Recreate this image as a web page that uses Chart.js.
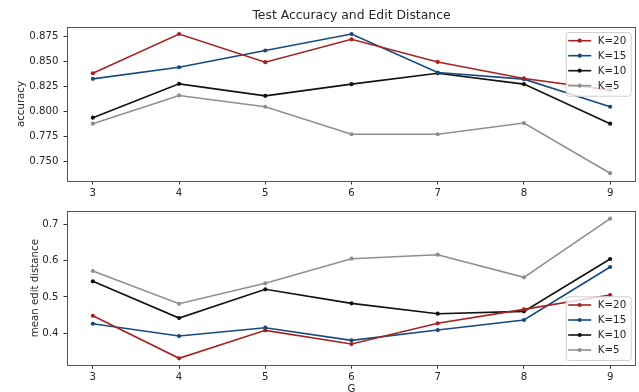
<!DOCTYPE html>
<html><head><meta charset="utf-8">
<script src="https://cdn.jsdelivr.net/npm/chart.js@4"></script>
<style>
html,body{margin:0;padding:0;background:#fff;overflow:hidden;width:639px;height:392px;}
#w1{position:absolute;left:0;top:0;width:639px;height:200px;}
#w2{position:absolute;left:0;top:195px;width:639px;height:205px;}
</style></head><body>
<div id="w1"><canvas id="c1"></canvas></div>
<div id="w2"><canvas id="c2"></canvas></div>
<script>
const G = [3, 4, 5, 6, 7, 8, 9];
const seriesLabels = ['K=20', 'K=15', 'K=10', 'K=5'];
const seriesColors = ['#a52222', '#17497d', '#111111', '#8f8f8f'];

const accK20 = [0.8381, 0.8773, 0.8491, 0.8720, 0.8494, 0.8329, 0.8212];
const accK15 = [0.8325, 0.8441, 0.8608, 0.8773, 0.8388, 0.8322, 0.8046];
const accK10 = [0.7937, 0.8275, 0.8155, 0.8272, 0.8381, 0.8272, 0.7877];
const accK5  = [0.7877, 0.8159, 0.8046, 0.7771, 0.7771, 0.7883, 0.7382];

const editK20 = [0.4484, 0.3312, 0.4082, 0.3705, 0.4275, 0.4660, 0.5054];
const editK15 = [0.4264, 0.3925, 0.4154, 0.3807, 0.4090, 0.4366, 0.5825];
const editK10 = [0.5431, 0.4421, 0.5211, 0.4825, 0.4540, 0.4605, 0.6045];
const editK5  = [0.5715, 0.4814, 0.5376, 0.6053, 0.6163, 0.5541, 0.7154];

const accTicks = [0.750, 0.775, 0.800, 0.825, 0.850, 0.875];
const accTickLabels = ['0.750', '0.775', '0.800', '0.825', '0.850', '0.875'];
const editTicks = [0.4, 0.5, 0.6, 0.7];
const editTickLabels = ['0.4', '0.5', '0.6', '0.7'];

const titleText = 'Test Accuracy and Edit Distance';
const FONT = "'DejaVu Sans', sans-serif";

function makeDatasets(arrs) {
  return arrs.map((vals, i) => ({
    label: seriesLabels[i],
    data: G.map((g, j) => ({x: g, y: vals[j]})),
    borderColor: seriesColors[i],
    backgroundColor: seriesColors[i],
    borderWidth: 1.6,
    pointRadius: 2.1,
    pointBorderWidth: 0,
    pointHoverRadius: 2.1,
    tension: 0
  }));
}

const framePlugin = {
  id: 'frame',
  afterDatasetsDraw(chart) {
    const {ctx, chartArea: a} = chart;
    ctx.save();
    ctx.strokeStyle = '#555';
    ctx.lineWidth = 1;
    ctx.strokeRect(Math.round(a.left) + 0.5, Math.round(a.top) + 0.5,
      Math.round(a.right - a.left) - 1, Math.round(a.bottom - a.top));
    ctx.restore();
  }
};

const boxLegend = {
  id: 'boxLegend',
  afterDraw(chart, args, opts) {
    const {ctx, chartArea: a} = chart;
    const w = 65, h = 63.7;
    const x = a.right - 5.3 - w;
    const y = opts.pos === 'upper' ? a.top + 5 : a.bottom - 5.3 - h;
    ctx.save();
    ctx.beginPath();
    ctx.roundRect(x + 0.5, y + 0.5, w, h, 2.5);
    ctx.fillStyle = 'rgba(255,255,255,0.8)';
    ctx.fill();
    ctx.strokeStyle = '#d0d0d0';
    ctx.lineWidth = 1;
    ctx.stroke();
    chart.data.datasets.forEach((ds, i) => {
      const cy = y + 8.7 + i * 15;
      ctx.strokeStyle = ds.borderColor;
      ctx.lineWidth = 1.6;
      ctx.beginPath();
      ctx.moveTo(x + 2.5, cy);
      ctx.lineTo(x + 25.5, cy);
      ctx.stroke();
      ctx.fillStyle = ds.borderColor;
      ctx.beginPath();
      ctx.arc(x + 14, cy, 2.1, 0, Math.PI * 2);
      ctx.fill();
      ctx.fillStyle = '#262626';
      ctx.font = '10.3px ' + FONT;
      ctx.textBaseline = 'middle';
      ctx.textAlign = 'left';
      ctx.fillText(ds.label, x + 32, cy + 0.5);
    });
    ctx.restore();
  }
};

const titlePlugin = {
  id: 'topTitle',
  afterDraw(chart, args, opts) {
    if (!opts.text) return;
    const {ctx, chartArea: a} = chart;
    ctx.save();
    ctx.font = '12.4px ' + FONT;
    ctx.fillStyle = '#262626';
    ctx.textAlign = 'center';
    ctx.textBaseline = 'middle';
    ctx.fillText(opts.text, (a.left + a.right) / 2, 16);
    ctx.restore();
  }
};

function makeChart(id, arrs, cfg) {
  return new Chart(document.getElementById(id), {
    type: 'line',
    data: {datasets: makeDatasets(arrs)},
    options: {
      responsive: true,
      maintainAspectRatio: false,
      animation: false,
      devicePixelRatio: 1,
      layout: {padding: {top: cfg.padTop, left: 0, right: 3, bottom: 0}},
      plugins: {
        legend: {display: false},
        tooltip: {enabled: false},
        title: {display: false},
        boxLegend: {pos: cfg.legendPos},
        topTitle: {text: cfg.title}
      },
      scales: {
        x: {
          type: 'linear',
          min: 2.7, max: 9.3,
          afterBuildTicks: s => { s.ticks = G.map(v => ({value: v})); },
          afterFit: s => { s.height = cfg.xHeight; },
          ticks: {
            font: {family: FONT, size: 10.2},
            color: '#262626',
            padding: 2.5,
            maxRotation: 0,
            autoSkip: false,
            callback: (v) => String(v)
          },
          grid: {display: true, drawOnChartArea: false, drawTicks: true, tickLength: 3.5, tickColor: '#333'},
          border: {display: false},
          title: {
            display: !!cfg.xTitle,
            text: cfg.xTitle || '',
            font: {family: FONT, size: 10.2},
            color: '#262626',
            padding: {top: 0, bottom: 4.3}
          }
        },
        y: {
          type: 'linear',
          min: cfg.yMin, max: cfg.yMax,
          afterBuildTicks: s => { s.ticks = cfg.yTicks.map(v => ({value: v})); },
          afterFit: s => { s.width = 67; },
          ticks: {
            font: {family: FONT, size: 10.2},
            color: '#262626',
            padding: 5,
            autoSkip: false,
            callback: (v, i) => cfg.yTickLabels[i]
          },
          grid: {display: true, drawOnChartArea: false, drawTicks: true, tickLength: 3.5, tickColor: '#333'},
          border: {display: false},
          title: {
            display: true,
            text: cfg.yTitle,
            font: {family: FONT, size: 10.2},
            color: '#262626',
            padding: {top: cfg.yTitlePad, bottom: 0}
          }
        }
      }
    },
    plugins: [framePlugin, boxLegend, titlePlugin]
  });
}

makeChart('c1', [accK20, accK15, accK10, accK5], {
  padTop: 27, xHeight: 19, legendPos: 'upper', title: titleText,
  yMin: 0.7304, yMax: 0.8843, yTicks: accTicks, yTickLabels: accTickLabels,
  yTitle: 'accuracy', yTitlePad: 15, xTitle: ''
});

makeChart('c2', [editK20, editK15, editK10, editK5], {
  padTop: 16, xHeight: 34.7, legendPos: 'lower', title: '',
  yMin: 0.312, yMax: 0.7366, yTicks: editTicks, yTickLabels: editTickLabels,
  yTitle: 'mean edit distance', yTitlePad: 29.5, xTitle: 'G'
});
</script>
</body></html>
